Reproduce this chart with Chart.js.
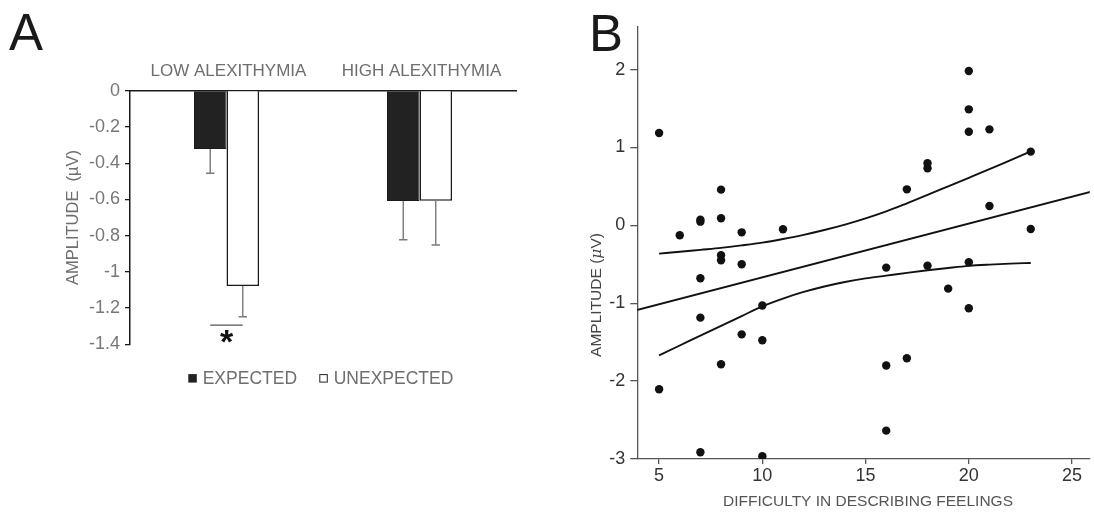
<!DOCTYPE html>
<html><head><meta charset="utf-8">
<script src="https://cdn.jsdelivr.net/npm/chart.js@4"></script>
<style>
html,body{margin:0;padding:0;background:#fff;overflow:hidden;width:1094px;height:512px}
#a{position:absolute;left:0;top:0}
#b{position:absolute;left:560px;top:0}
</style></head><body>
<canvas id="a" width="560" height="512"></canvas>
<canvas id="b" width="534" height="512"></canvas>
<script>
// ---------- Panel A data ----------
const groupLabels = ['LOW ALEXITHYMIA', 'HIGH ALEXITHYMIA'];
const legendLabels = ['EXPECTED', 'UNEXPECTED'];
const expectedMean = [-0.322, -0.609];
const unexpectedMean = [-1.078, -0.607];
const expectedErr = [0.134, 0.214];
const unexpectedErr = [0.170, 0.245];
const yTicksA = [0, -0.2, -0.4, -0.6, -0.8, -1, -1.2, -1.4];
const sigLevel = -1.294;
const sigLabel = '*';
const yTitleA = 'AMPLITUDE  (\u00b5V)';

// ---------- Panel B data ----------
const scatterX = [5, 5, 6, 7, 7, 7, 7, 7, 8, 8, 8, 8, 8, 9, 9, 9, 10, 10, 10, 11,
                  16, 16, 16, 17, 17, 18, 18, 18, 19, 20, 20, 20, 20, 20, 21, 21, 23, 23];
const scatterY = [1.185, -2.105, -0.128, 0.073, 0.047, -0.68, -1.185, -2.914, 0.458, 0.09, -0.385, -0.449, -1.784, -0.09, -0.50, -1.40, -1.03, -1.476, -2.965, -0.051,
                  -0.543, -1.80, -2.636, 0.462, -1.707, 0.796, 0.732, -0.518, -0.813, 1.981, 1.489, 1.202, -0.475, -1.065, 1.232, 0.248, 0.946, -0.047];
const fitX = [3.9, 26];
const fitY = [-1.09, 0.437];
const ciX = [5, 6, 7, 8, 9, 10, 11, 12, 13, 14, 15, 16, 17, 18, 19, 20, 21, 22, 23];
const ciUpper = [-0.364, -0.34, -0.315, -0.29, -0.258, -0.222, -0.175, -0.122, -0.06, 0.01, 0.09, 0.18, 0.283, 0.39, 0.50, 0.61, 0.72, 0.835, 0.95];
const ciLower = [-1.67, -1.543, -1.416, -1.29, -1.165, -1.04, -0.94, -0.855, -0.785, -0.727, -0.681, -0.646, -0.61, -0.577, -0.547, -0.52, -0.504, -0.492, -0.483];
const xTicksB = [5, 10, 15, 20, 25];
const yTicksB = [-3, -2, -1, 0, 1, 2];
const xTitleB = 'DIFFICULTY IN DESCRIBING FEELINGS';

const FONT = "'Liberation Sans', Arial, Helvetica, sans-serif";
Chart.defaults.font.family = FONT;
Chart.defaults.animation = false;
const fmt = v => String(Number(Number(v).toFixed(2)));

// ---------- Panel A ----------
const panelA = {
  id: 'panelA',
  afterDatasetsDraw(chart) {
    const ctx = chart.ctx;
    const ys = chart.scales.y;
    const area = chart.chartArea;
    const errs = [expectedErr, unexpectedErr];
    ctx.save();
    // error bars
    chart.data.datasets.forEach((ds, i) => {
      const meta = chart.getDatasetMeta(i);
      meta.data.forEach((bar, j) => {
        const v = ds.data[j];
        const y0 = ys.getPixelForValue(v);
        const y1 = ys.getPixelForValue(v - errs[i][j]);
        ctx.strokeStyle = '#7a7a7a';
        ctx.lineWidth = 1.4;
        ctx.beginPath();
        ctx.moveTo(bar.x, y0); ctx.lineTo(bar.x, y1);
        ctx.moveTo(bar.x - 4.2, y1); ctx.lineTo(bar.x + 4.2, y1);
        ctx.stroke();
      });
    });
    // significance
    const b0 = chart.getDatasetMeta(0).data[0];
    const b1 = chart.getDatasetMeta(1).data[0];
    const sy = ys.getPixelForValue(sigLevel);
    ctx.strokeStyle = '#555';
    ctx.lineWidth = 1.3;
    ctx.beginPath(); ctx.moveTo(b0.x, sy); ctx.lineTo(b1.x, sy); ctx.stroke();
    ctx.fillStyle = '#111';
    ctx.font = 'bold 34px ' + FONT;
    ctx.textAlign = 'center';
    ctx.textBaseline = 'alphabetic';
    ctx.fillText(sigLabel, (b0.x + b1.x) / 2, sy + 28);
    // y title
    ctx.save();
    ctx.translate(73, (area.top + area.bottom) / 2);
    ctx.rotate(-Math.PI / 2);
    ctx.fillStyle = '#6e6e6e';
    ctx.font = '16.5px ' + FONT;
    ctx.textAlign = 'center';
    ctx.textBaseline = 'middle';
    ctx.fillText(yTitleA, 0, 0);
    ctx.restore();
    // legend
    const ly = area.bottom + 34;
    ctx.font = '17.5px ' + FONT;
    ctx.textAlign = 'left';
    ctx.textBaseline = 'middle';
    const lx = [area.left + 58.3, area.left + 189.3];
    chart.data.datasets.forEach((ds, i) => {
      if (i === 0) {
        ctx.fillStyle = '#222';
        ctx.fillRect(lx[i], ly - 4.2, 8.5, 8.5);
      } else {
        ctx.strokeStyle = '#222';
        ctx.lineWidth = 1;
        ctx.strokeRect(lx[i] + 0.5, ly - 3.7, 7.5, 7.5);
      }
      ctx.fillStyle = '#6e6e6e';
      ctx.fillText(ds.label, lx[i] + 14.4, ly + 0.5);
    });
    // panel label
    ctx.fillStyle = '#1a1a1a';
    ctx.font = '51px ' + FONT;
    ctx.textAlign = 'left';
    ctx.textBaseline = 'alphabetic';
    ctx.fillText('A', 9, 50);
    ctx.restore();
  }
};

new Chart(document.getElementById('a'), {
  type: 'bar',
  data: {
    labels: groupLabels,
    datasets: [
      { label: legendLabels[0], data: expectedMean, backgroundColor: '#222', borderColor: '#1a1a1a', borderWidth: 1 },
      { label: legendLabels[1], data: unexpectedMean, backgroundColor: '#fff', borderColor: '#1a1a1a', borderWidth: 1.5 }
    ]
  },
  options: {
    responsive: false,
    animation: false,
    layout: { padding: { left: 0, top: 0, right: 44, bottom: 167.7 } },
    datasets: { bar: { categoryPercentage: 0.337, barPercentage: 1.0 } },
    plugins: { legend: { display: false }, tooltip: { enabled: false } },
    scales: {
      x: {
        position: 'top',
        grid: { display: true, drawOnChartArea: false, drawTicks: false, color: 'rgba(0,0,0,0)' },
        border: { display: true, color: '#1a1a1a', width: 1.5 },
        ticks: { color: '#6e6e6e', font: { size: 17 }, padding: 9, labelOffset: 2 },
        afterFit(s) { s.height = 90.7; }
      },
      y: {
        min: -1.4, max: 0,
        afterBuildTicks(s) { s.ticks = yTicksA.map(v => ({ value: v })); },
        grid: { display: true, drawOnChartArea: false, drawTicks: true, tickLength: 5, color: '#1a1a1a', lineWidth: 1.3 },
        border: { display: true, color: '#1a1a1a', width: 1.5 },
        ticks: { color: '#777', font: { size: 18 }, padding: 5, callback: v => fmt(v) },
        afterFit(s) { s.width = 130; }
      }
    }
  },
  plugins: [panelA]
});

// ---------- Panel B ----------
const panelB = {
  id: 'panelB',
  afterDraw(chart) {
    const ctx = chart.ctx;
    ctx.save();
    // y title with italic mu
    ctx.translate(37, 295);
    ctx.rotate(-Math.PI / 2);
    ctx.fillStyle = '#444';
    ctx.textBaseline = 'middle';
    ctx.textAlign = 'left';
    const fN = '15.5px ' + FONT, fI = 'italic 15.5px ' + "'DejaVu Serif', serif";
    const parts = [['AMPLITUDE (', fN], ['\u03bc', fI], ['V)', fN]];
    let total = 0;
    parts.forEach(p => { ctx.font = p[1]; total += ctx.measureText(p[0]).width; });
    let x = -total / 2;
    parts.forEach(p => { ctx.font = p[1]; ctx.fillText(p[0], x, 0); x += ctx.measureText(p[0]).width; });
    ctx.restore();
    ctx.save();
    // x title
    ctx.fillStyle = '#555';
    ctx.font = '15.5px ' + FONT;
    ctx.textAlign = 'center';
    ctx.textBaseline = 'middle';
    ctx.fillText(xTitleB, 308, 502);
    // panel label
    ctx.fillStyle = '#1a1a1a';
    ctx.font = '51px ' + FONT;
    ctx.textAlign = 'left';
    ctx.textBaseline = 'alphabetic';
    ctx.fillText('B', 29, 51);
    ctx.restore();
  }
};

const toXY = (xs, ys) => xs.map((x, i) => ({ x: x, y: ys[i] }));

new Chart(document.getElementById('b'), {
  type: 'scatter',
  data: {
    datasets: [
      { label: 'fit', data: toXY(fitX, fitY), showLine: true, borderColor: '#111', borderWidth: 1.9, pointRadius: 0 },
      { label: 'ci upper', data: toXY(ciX, ciUpper), showLine: true, borderColor: '#111', borderWidth: 1.9, pointRadius: 0, cubicInterpolationMode: 'monotone' },
      { label: 'ci lower', data: toXY(ciX, ciLower), showLine: true, borderColor: '#111', borderWidth: 1.9, pointRadius: 0, cubicInterpolationMode: 'monotone' },
      { label: 'subjects', data: toXY(scatterX, scatterY), backgroundColor: '#111', borderColor: '#111', borderWidth: 0, pointRadius: 4.2 }
    ]
  },
  options: {
    responsive: false,
    animation: false,
    layout: { padding: { left: 0, top: 26.7, right: 0, bottom: 0 } },
    plugins: { legend: { display: false }, tooltip: { enabled: false } },
    scales: {
      x: {
        type: 'linear', min: 3.944, max: 25.86,
        afterBuildTicks(s) { s.ticks = xTicksB.map(v => ({ value: v })); },
        grid: { display: true, drawOnChartArea: false, drawTicks: true, tickLength: 5, color: '#555', lineWidth: 1.3 },
        border: { display: true, color: '#555', width: 1.3 },
        ticks: { color: '#333', font: { size: 18 }, padding: 1, maxRotation: 0 },
        afterFit(s) { s.height = 53; }
      },
      y: {
        type: 'linear', min: -3, max: 2.55,
        afterBuildTicks(s) { s.ticks = yTicksB.map(v => ({ value: v })); },
        grid: { display: true, drawOnChartArea: false, drawTicks: true, tickLength: 7, color: '#555', lineWidth: 1.3 },
        border: { display: true, color: '#555', width: 1.3 },
        ticks: { color: '#333', font: { size: 18 }, padding: 5, callback: v => fmt(v) },
        afterFit(s) { s.width = 77.3; }
      }
    }
  },
  plugins: [panelB]
});
</script>
</body></html>
